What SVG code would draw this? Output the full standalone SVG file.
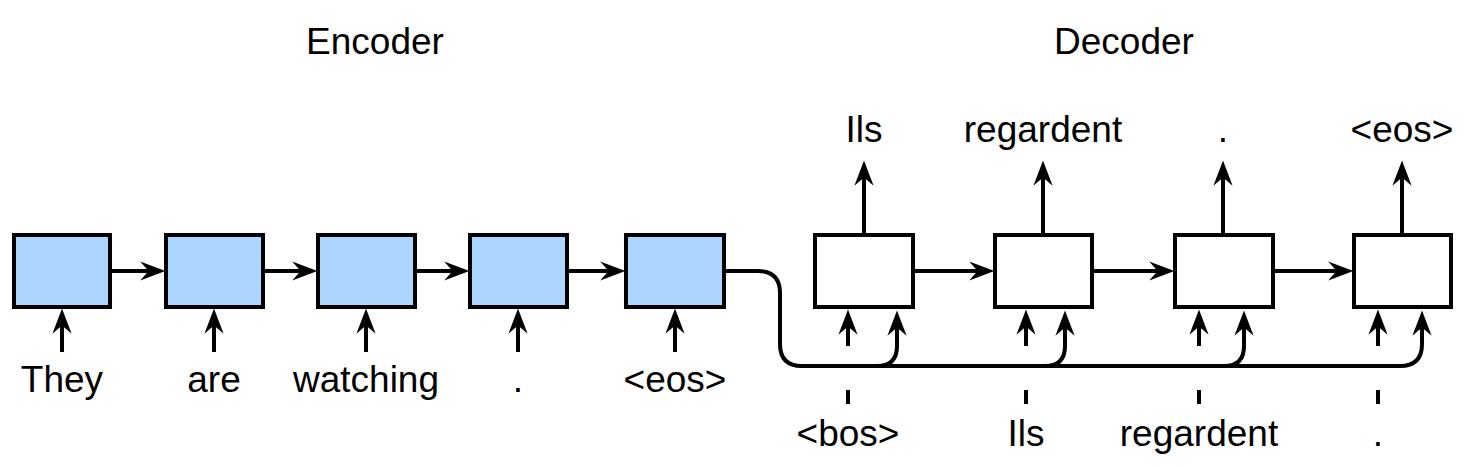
<svg xmlns="http://www.w3.org/2000/svg" width="1479" height="467" viewBox="0 0 1479 467">
<style>
  .enc { fill: #add6ff; stroke: #000; stroke-width: 4; }
  .dec { fill: #fff; stroke: #000; stroke-width: 4; }
  .ln { fill: none; stroke: #000; stroke-width: 4; }
  .arr { fill: none; stroke: #000; stroke-width: 4; marker-end: url(#ah); }
  text { font-family: "Liberation Sans", Arial, sans-serif; font-size: 37px; fill: #000; text-anchor: middle; }
</style>
<defs>
  <marker id="ah" markerUnits="userSpaceOnUse" orient="auto" refX="0" refY="0" markerWidth="30" markerHeight="30" viewBox="-10 -10 25 20" overflow="visible">
    <path d="M12,0 L-9,-8 L-2,0 L-9,8 Z" fill="#000"/>
  </marker>
</defs>
<rect width="1479" height="467" fill="#fff"/>
<g id="titles">
  <text x="375" y="54">Encoder</text>
  <text x="1124" y="54">Decoder</text>
</g>
<g id="enc1"><rect class="enc" x="14" y="235" width="96" height="72"/><text x="62" y="392">They</text></g>
<g id="enc2"><rect class="enc" x="166" y="235" width="97" height="72"/><text x="214" y="392">are</text></g>
<g id="enc3"><rect class="enc" x="318" y="235" width="97" height="72"/><text x="366" y="392">watching</text></g>
<g id="enc4"><rect class="enc" x="470" y="235" width="97" height="72"/><text x="518" y="392">.</text></g>
<g id="enc5"><rect class="enc" x="626" y="235" width="98" height="72"/><text x="675" y="392">&lt;eos&gt;</text></g>
<g id="dec1"><rect class="dec" x="815" y="235" width="98" height="72"/><text x="864" y="142">Ils</text><text x="848" y="446">&lt;bos&gt;</text></g>
<g id="dec2"><rect class="dec" x="995" y="235" width="97" height="72"/><text x="1043" y="142">regardent</text><text x="1026" y="446">Ils</text></g>
<g id="dec3"><rect class="dec" x="1175" y="235" width="98" height="72"/><text x="1223" y="142">.</text><text x="1199" y="446">regardent</text></g>
<g id="dec4"><rect class="dec" x="1354" y="235" width="97" height="72"/><text x="1402" y="142">&lt;eos&gt;</text><text x="1378" y="446">.</text></g>
<g id="connectors">
  <line class="arr" x1="112" y1="271" x2="151" y2="271"/>
  <line class="arr" x1="265" y1="271" x2="303" y2="271"/>
  <line class="arr" x1="417" y1="271" x2="455" y2="271"/>
  <line class="arr" x1="569" y1="271" x2="611" y2="271"/>
  <line class="arr" x1="915" y1="271" x2="980" y2="271"/>
  <line class="arr" x1="1094" y1="271" x2="1160" y2="271"/>
  <line class="arr" x1="1275" y1="271" x2="1339" y2="271"/>
  <line class="arr" x1="62" y1="352" x2="62" y2="323"/>
  <line class="arr" x1="214" y1="352" x2="214" y2="323"/>
  <line class="arr" x1="366" y1="352" x2="366" y2="323"/>
  <line class="arr" x1="518" y1="352" x2="518" y2="323"/>
  <line class="arr" x1="675" y1="352" x2="675" y2="323"/>
  <line class="arr" x1="864" y1="233" x2="864" y2="175"/>
  <line class="arr" x1="1043" y1="233" x2="1043" y2="175"/>
  <line class="arr" x1="1223" y1="233" x2="1223" y2="175"/>
  <line class="arr" x1="1402" y1="233" x2="1402" y2="175"/>
  <line class="arr" x1="848" y1="346" x2="848" y2="324"/>
  <line class="arr" x1="1026" y1="346" x2="1026" y2="324"/>
  <line class="arr" x1="1199" y1="346" x2="1199" y2="324"/>
  <line class="arr" x1="1378" y1="346" x2="1378" y2="324"/>
  <line class="ln" x1="848" y1="390" x2="848" y2="404"/>
  <line class="ln" x1="1026" y1="390" x2="1026" y2="404"/>
  <line class="ln" x1="1199" y1="390" x2="1199" y2="404"/>
  <line class="ln" x1="1378" y1="390" x2="1378" y2="404"/>
  <path class="arr" d="M724,271 H758 Q780,271 780,293 V344 Q780,366 802,366 H1400 Q1422,366 1422,344 V325"/>
  <path class="arr" d="M877,366 Q897,366 897,346 V325"/>
  <path class="arr" d="M1045,366 Q1065,366 1065,346 V325"/>
  <path class="arr" d="M1224,366 Q1244,366 1244,346 V325"/>
</g>
</svg>
